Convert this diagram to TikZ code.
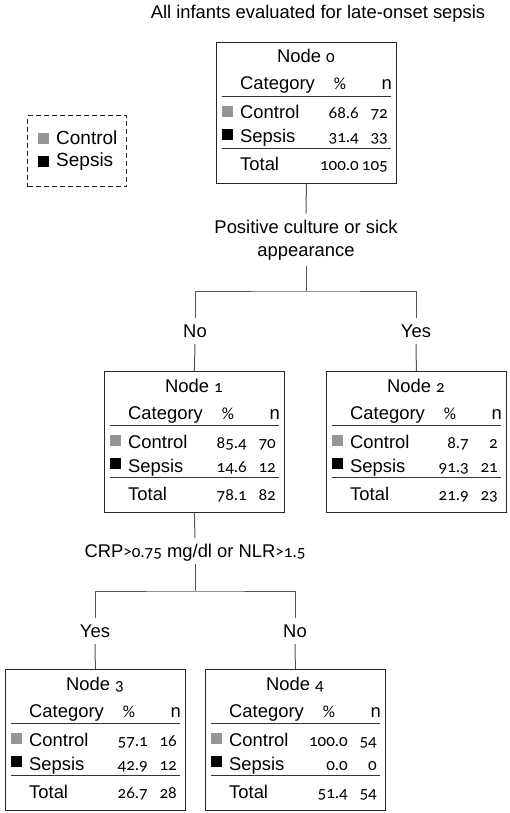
\documentclass[tikz,border=0pt]{standalone}
\usepackage{fontspec}
\setmainfont{Liberation Sans}
\newfontfamily\numfont[Numbers=OldStyle]{Carlito}
\usetikzlibrary{positioning}
\definecolor{ctrlgray}{RGB}{152,147,149}
\definecolor{edgegray}{RGB}{85,85,85}
\newcommand{\nm}[1]{{\numfont\fontsize{17}{20}\selectfont #1}}
% one node of the tree: name, north west corner, number, then % and n rows
\newcommand{\TreeBox}[9]{%
  \node[treebox, anchor=north west] (#1) at (#2) {};
  \begin{scope}[shift={(#1.north west)}]
    \node[txt, anchor=base] (#1-head) at (90,21) {Node \nm{#3}};
    \node[txt, anchor=base west] (#1-cat) at (24,48) {Category};
    \node[txt, anchor=base] (#1-pct) at (124,48) {\nm{\%}};
    \node[txt, anchor=base east] (#1-n) at (176,48) {n};
    \draw[rule] (6,54) -- (175,54);
    \fill[ctrlgray] (6,64) rectangle (17,75);
    \node[txt, anchor=base west] (#1-ctrl) at (24,77) {Control};
    \node[txt, anchor=base east] (#1-cp) at (143,77) {\nm{#4}};
    \node[txt, anchor=base east] (#1-cn) at (172,77) {\nm{#5}};
    \fill[black] (6,87) rectangle (17,98);
    \node[txt, anchor=base west] (#1-seps) at (24,101) {Sepsis};
    \node[txt, anchor=base east] (#1-sp) at (143,101) {\nm{#6}};
    \node[txt, anchor=base east] (#1-sn) at (172,101) {\nm{#7}};
    \draw[rule] (6,106) -- (175,106);
    \node[txt, anchor=base west] (#1-tot) at (24,129) {Total};
    \node[txt, anchor=base east] (#1-tp) at (143,129) {\nm{#8}};
    \node[txt, anchor=base east] (#1-tn) at (172,129) {\nm{#9}};
  \end{scope}}

\begin{document}
\begin{tikzpicture}[x=1pt,y=-1pt]
  \tikzset{txt/.style = {inner sep=0pt, font=\fontsize{18.4}{23}\selectfont}}
  \tikzset{treebox/.style = {draw=black!85, line width=0.8pt, inner sep=0pt,
                             minimum width=180pt, minimum height=141pt}}
  \tikzset{rule/.style = {draw=black!80, line width=0.8pt}}
  \tikzset{edge/.style = {draw=edgegray, line width=1pt}}
  \tikzset{split/.style = {inner xsep=0pt, inner ysep=6.5pt, text height=13pt,
                           text depth=0pt, font=\fontsize{18.4}{23}\selectfont}}
  \tikzset{question/.style = {inner xsep=0pt, inner ysep=6pt, align=center,
                              font=\fontsize{18.4}{23}\selectfont}}
  \useasboundingbox (0,0) rectangle (510,813);

  \node[txt, anchor=base] (title) at (318,19) {All infants evaluated for late-onset sepsis};

  % legend
  \node[draw=black!85, dash pattern=on 5pt off 3pt, line width=1.2pt, anchor=north west,
        minimum width=99pt, minimum height=71pt] (legend) at (27,115) {};
  \fill[ctrlgray] (38,133) rectangle (49,144);
  \fill[black] (38,156) rectangle (49,167);
  \node[txt, font=\fontsize{19}{23}\selectfont, anchor=base west] (legctrl) at (56,145) {Control};
  \node[txt, font=\fontsize{19}{23}\selectfont, anchor=base west] (legseps) at (56,167) {Sepsis};

  \TreeBox{n0}{216,42}{0}{68.6}{72}{31.4}{33}{100.0}{105}
  \TreeBox{n1}{104,371}{1}{85.4}{70}{14.6}{12}{78.1}{82}
  \TreeBox{n2}{326,371}{2}{8.7}{2}{91.3}{21}{21.9}{23}
  \TreeBox{n3}{5,669}{3}{57.1}{16}{42.9}{12}{26.7}{28}
  \TreeBox{n4}{205,669}{4}{100.0}{54}{0.0}{0}{51.4}{54}

  % first split
  \node[question] (q0) at (306,240) {Positive culture or sick\\appearance};
  \coordinate (j0) at (306,291);
  \node[split] (no0) at (195,331) {No};
  \node[split] (yes0) at (416,331) {Yes};
  \draw[edge] (n0.south) -- (q0.north);
  \draw[edge] (q0.south) -- (j0);
  \draw[edge] (no0.north) |- (j0) -| (yes0.north);
  \draw[edge] (no0.south) -- (n1.north);
  \draw[edge] (yes0.south) -- (n2.north);

  % second split
  \node[split] (q1) at (195,551) {CRP\nm{>0.75} mg/dl or NLR\nm{>1.5}};
  \coordinate (j1) at (195,591);
  \node[split] (yes1) at (95,631) {Yes};
  \node[split] (no1) at (295,631) {No};
  \draw[edge] (n1.south) -- (q1.north);
  \draw[edge] (q1.south) -- (j1);
  \draw[edge] (yes1.north) |- (j1) -| (no1.north);
  \draw[edge] (yes1.south) -- (n3.north);
  \draw[edge] (no1.south) -- (n4.north);
\end{tikzpicture}
\end{document}
